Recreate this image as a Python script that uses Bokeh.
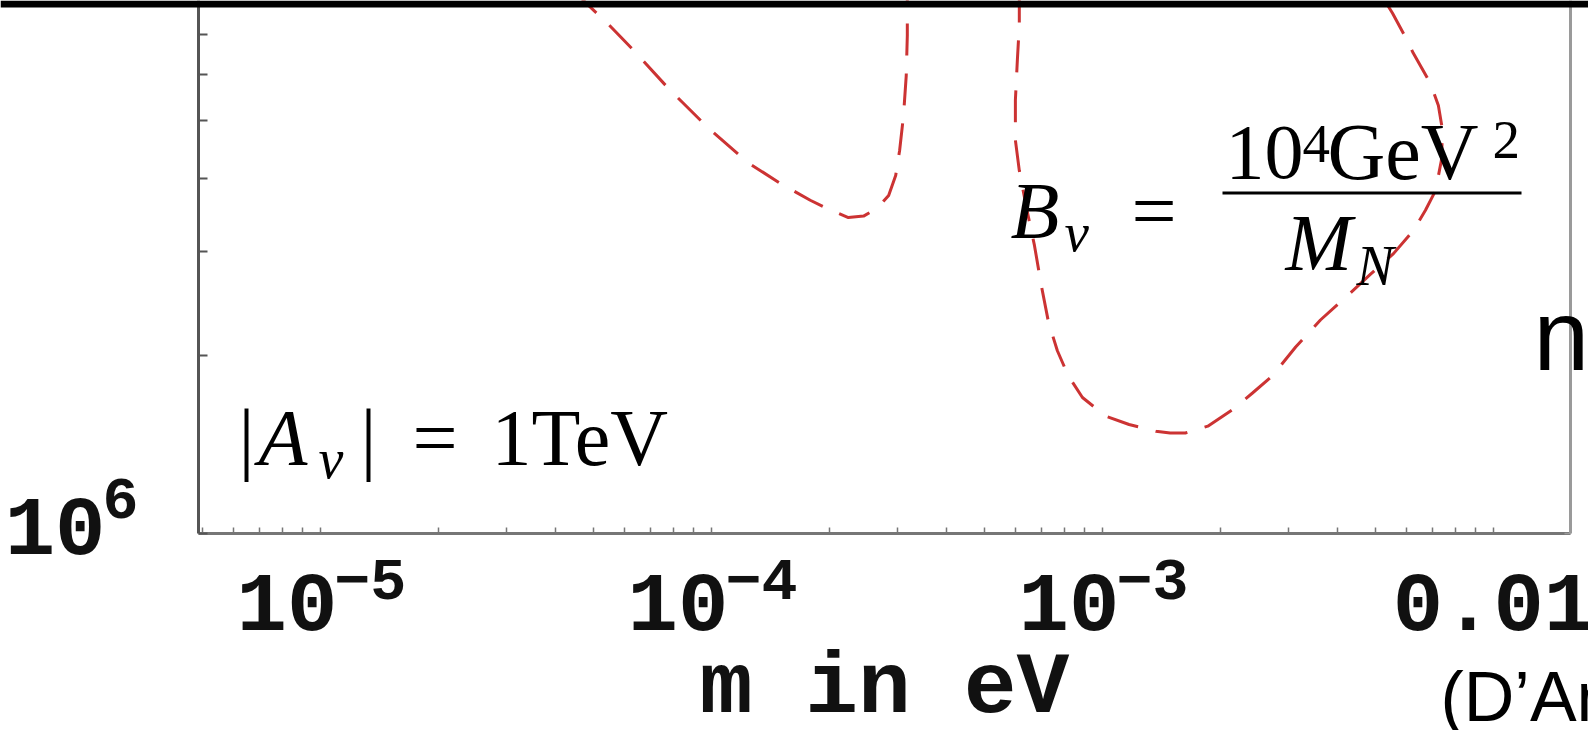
import math
from bokeh.plotting import figure
from bokeh.models import (Range1d, FixedTicker, LogTickFormatter, LogAxis,
                          Label, BoxAnnotation)
from bokeh.embed import file_html
from bokeh.resources import INLINE

# ---- data -------------------------------------------------------------
# light neutrino mass m (eV) on x, log-scaled quantity on y
contour_left_m = [4.44e-5, 4.85e-5, 5.42e-5, 6.32e-5, 7.76e-5, 9.77e-5, 1.24e-4,
                  1.50e-4, 1.79e-4, 2.02e-4, 2.24e-4, 2.45e-4, 2.66e-4, 2.84e-4,
                  2.96e-4, 3.03e-4, 3.10e-4, 3.15e-4, 3.17e-4, 3.17e-4]
contour_left_y = [8.32e6, 7.85e6, 7.32e6, 6.59e6, 5.68e6, 4.88e6, 4.25e6,
                  3.92e6, 3.67e6, 3.53e6, 3.43e6, 3.45e6, 3.56e6, 3.74e6,
                  4.04e6, 4.46e6, 5.11e6, 5.97e6, 6.98e6, 8.32e6]

contour_right_m = [6.13e-4, 6.13e-4, 6.06e-4, 5.99e-4, 5.99e-4, 6.13e-4, 6.39e-4,
                   6.70e-4, 6.98e-4, 7.28e-4, 7.67e-4, 8.18e-4, 8.89e-4, 1.02e-3,
                   1.17e-3, 1.37e-3, 1.49e-3, 1.63e-3, 1.86e-3, 2.15e-3, 2.42e-3,
                   2.72e-3, 3.12e-3, 3.61e-3, 4.18e-3, 4.85e-3, 5.55e-3, 6.24e-3,
                   6.70e-3, 7.11e-3, 7.36e-3, 7.41e-3, 7.23e-3, 6.90e-3, 6.24e-3,
                   5.96e-3, 5.52e-3, 5.08e-3]
contour_right_y = [8.32e6, 7.26e6, 6.34e6, 5.42e6, 4.64e6, 4.12e6, 3.57e6,
                   3.08e6, 2.63e6, 2.28e6, 2.04e6, 1.85e6, 1.70e6, 1.58e6,
                   1.53e6, 1.49e6, 1.48e6, 1.48e6, 1.52e6, 1.62e6, 1.73e6,
                   1.85e6, 2.07e6, 2.30e6, 2.51e6, 2.75e6, 2.98e6, 3.26e6,
                   3.53e6, 3.81e6, 4.29e6, 4.82e6, 5.31e6, 5.79e6, 6.51e6,
                   6.93e6, 7.61e6, 8.32e6]

X_BOX = (4.88e-6, 1.574e-2)      # extent of the framed plot box
Y_BOX = (1e6, 8e6)

x_major_ticks = [1e-5, 1e-4, 1e-3, 1e-2]
x_tick_bases = ["10", "10", "10", "0.01"]
x_tick_exponents = ["−5", "−4", "−3", ""]
x_minor_ticks = [k * 10.0 ** e for e in range(-6, -1) for k in range(2, 10)
                 if X_BOX[0] <= k * 10.0 ** e <= X_BOX[1]]
y_major_ticks = [1e6]
y_tick_bases = ["10"]
y_tick_exponents = ["6"]
y_minor_ticks = [2e6, 3e6, 4e6, 5e6, 6e6, 7e6]

# ---- layout geometry ----------------------------------------------------
W, H = 1588, 730
BOX_L, BOX_R, BOX_T, BOX_B = 198, 1570, 0, 533   # plot box on the page (px)
BAR = 7                                           # black strip at the top
DROP = 0.38                                       # label baseline shift (em)

RED = "#cc3333"
SERIF = "Liberation Serif"
MONO = "Liberation Mono"
SANS = "Liberation Sans"

LX0, LX1 = math.log10(X_BOX[0]), math.log10(X_BOX[1])
LY0, LY1 = math.log10(Y_BOX[0]), math.log10(Y_BOX[1])
DX = (BOX_R - BOX_L) / (LX1 - LX0)        # px per decade
DY = (BOX_B - BOX_T) / (LY1 - LY0)

x_range = Range1d(10 ** (LX0 - BOX_L / DX), 10 ** (LX1 + (W - BOX_R) / DX))
y_range = Range1d(10 ** (LY0 - (H - BOX_B) / DY), 10 ** (LY1 + BOX_T / DY))


def at(px, py):
    """Page pixel -> data coordinates (used only to place annotations)."""
    return (10 ** (LX0 + (px - BOX_L) / DX), 10 ** (LY0 + (BOX_B - py) / DY))


p = figure(width=W, height=H, x_axis_type="log", y_axis_type="log",
           x_range=x_range, y_range=y_range,
           output_backend="svg", toolbar_location=None,
           min_border_left=0, min_border_right=0,
           min_border_top=0, min_border_bottom=0)
p.outline_line_color = None
p.grid.visible = False
p.background_fill_color = "white"
p.border_fill_color = "white"


def style_axis(ax, color, width, tick_len, tick_width):
    ax.axis_line_color = color
    ax.axis_line_width = width
    ax.major_tick_in = tick_len
    ax.major_tick_out = 0
    ax.minor_tick_in = tick_len
    ax.minor_tick_out = 0
    ax.major_tick_line_color = color
    ax.minor_tick_line_color = color
    ax.major_tick_line_width = tick_width
    ax.minor_tick_line_width = tick_width
    # tick labels are set separately with mixed base / exponent sizes
    ax.major_label_text_font_size = "1px"
    ax.major_label_text_alpha = 0.0
    ax.major_label_standoff = 0


# bottom axis of the box
xa = p.xaxis[0]
xa.ticker = FixedTicker(ticks=x_major_ticks, minor_ticks=x_minor_ticks)
xa.formatter = LogTickFormatter()
xa.fixed_location = Y_BOX[0]
xa.bounds = X_BOX
style_axis(xa, "#767676", 3, 6, 1.5)

# left axis of the box
ya = p.yaxis[0]
ya.ticker = FixedTicker(ticks=y_major_ticks, minor_ticks=y_minor_ticks)
ya.formatter = LogTickFormatter()
ya.fixed_location = X_BOX[0]
ya.bounds = Y_BOX
style_axis(ya, "#555555", 3, 9, 2)

# right edge of the box
ra = LogAxis(ticker=FixedTicker(ticks=y_major_ticks, minor_ticks=[]))
ra.fixed_location = X_BOX[1]
ra.bounds = Y_BOX
style_axis(ra, "#9a9a9a", 3, 6, 1.5)
p.add_layout(ra, "right")

# contours
p.line(contour_left_m, contour_left_y, line_color=RED, line_width=3,
       line_dash="32 18")
p.line(contour_right_m, contour_right_y, line_color=RED, line_width=3,
       line_dash="32 18")


def text_at(x, y, text, size, dx=0, base_dy=0, font=SERIF, style="normal",
            align="left", color="black"):
    """Text anchored at data (x, y); base_dy = baseline offset below it (px)."""
    p.add_layout(Label(x=x, y=y, x_offset=dx, y_offset=-base_dy + DROP * size,
                       text=text, text_font=font,
                       text_font_size=f"{size}px", text_font_style=style,
                       text_align=align, text_baseline="alphabetic",
                       text_color=color))


def label(px, py, text, size, **kw):
    """Text whose baseline starts at page position (px, py)."""
    x, y = at(px, py)
    text_at(x, y, text, size, **kw)


TICK = dict(font=MONO, style="bold", color="#111111")

# x tick labels
for tick, base, expo in zip(x_major_ticks, x_tick_bases, x_tick_exponents):
    if expo:
        text_at(tick, Y_BOX[0], base, 84, dx=17, base_dy=100, align="right",
                **TICK)
        text_at(tick, Y_BOX[0], expo, 60, dx=14, base_dy=69, **TICK)
    else:
        text_at(tick, Y_BOX[0], base, 84, dx=0, base_dy=100, align="center",
                **TICK)

# y tick label
for tick, base, expo in zip(y_major_ticks, y_tick_bases, y_tick_exponents):
    text_at(X_BOX[0], tick, base, 84, dx=-93, base_dy=24, align="right",
            **TICK)
    text_at(X_BOX[0], tick, expo, 60, dx=-96, base_dy=-12, **TICK)

# axis title
text_at(math.sqrt(X_BOX[0] * X_BOX[1]), Y_BOX[0], "m in eV", 88,
        base_dy=188, align="center", **TICK)

# |A_nu| = 1TeV
label(238, 468, "|", 80)
label(258, 468, "A", 80, style="italic")
label(318, 480, "ν", 56, style="italic")
label(360, 468, "|", 80)
label(412, 468, "=", 80)
label(491, 468, "1TeV", 80)

# B_nu = 10^4 GeV^2 / M_N
label(1010, 241, "B", 80, style="italic")
label(1064, 253, "ν", 55, style="italic")
label(1131, 241, "=", 80)
label(1225, 182, "10", 78)
label(1302, 164, "4", 55)
label(1327, 182, "GeV", 80)
label(1492, 160, "2", 55)
bx0, by0 = at(1222, 194)
bx1, by1 = at(1521, 191)
p.add_layout(BoxAnnotation(left=bx0, right=bx1, bottom=by0, top=by1,
                           fill_color="black", fill_alpha=1.0,
                           line_color=None))
label(1285, 273, "M", 80, style="italic")
label(1356, 287, "N", 56, style="italic")

# surrounding slide text
label(1533, 372, "n", 100, font=SANS)
label(1440, 723, "(D’Am", 70, font=SANS)

# black rule across the top of the page
_, bar_y = at(0, BAR)
p.add_layout(BoxAnnotation(left=x_range.start, right=x_range.end,
                           bottom=bar_y, top=y_range.end,
                           fill_color="black", fill_alpha=1.0,
                           line_color=None))

open("out.html", "w").write(file_html(p, INLINE))
